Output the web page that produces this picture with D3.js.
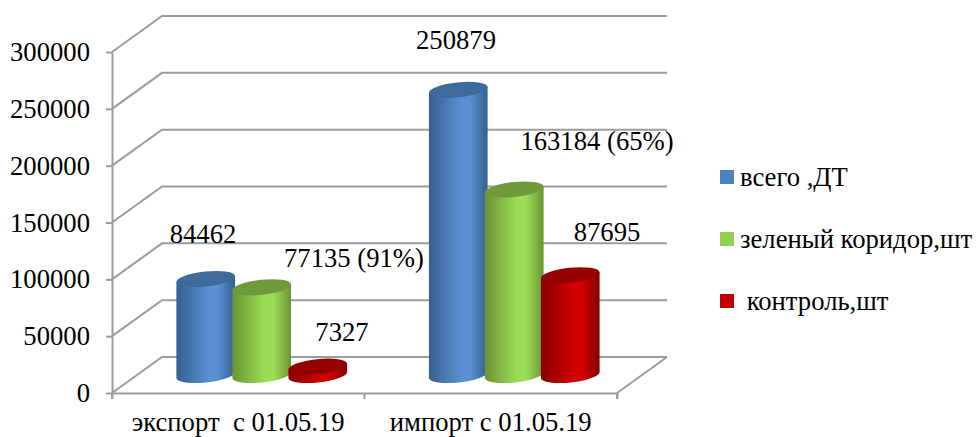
<!DOCTYPE html>
<html>
<head>
<meta charset="utf-8">
<script src="https://cdn.jsdelivr.net/npm/d3@7"></script>
<style>
  body { margin: 0; background: #fff; }
  text { font-family: "Liberation Serif", serif; font-size: 26.67px; fill: #000; white-space: pre; }
</style>
</head>
<body>
<script>
const categories = ["экспорт  с 01.05.19", "импорт с 01.05.19"];
const seriesNames = ["всего ,ДТ", "зеленый коридор,шт", " контроль,шт"];
const total = [84462, 250879];
const green = [77135, 163184];
const control = [7327, 87695];
const yTicks = [0, 50000, 100000, 150000, 200000, 250000, 300000];
const valueLabels = [
  ["84462", "250879"],
  ["77135 (91%)", "163184 (65%)"],
  ["7327", "87695"]
];

// hand placed in the original chart, so they are not tied to the bars
const labelPos = [
  [[203, 243], [456, 49]],
  [[354, 267], [597, 150]],
  [[342, 341], [607, 241]]
];

const colors = [
  { edge: "#35608f", mid: "#5a90d2", top: "#3f6a9c", key: "#4f81bd" },
  { edge: "#6a9432", mid: "#9cdd57", top: "#6f9b3c", key: "#92d050" },
  { edge: "#860000", mid: "#d20000", top: "#940000", key: "#c00000" }
];

const width = 976, height = 437;
const depth = { x: 50, y: -36 };
const plot = { left: 112, right: 617, top: 52, bottom: 393 };
const cyl = { rx: 29.5, ry: 7.5, tilt: 6 };
const seriesStep = 56;

const svg = d3.select("body").append("svg")
    .attr("width", width)
    .attr("height", height)
    .style("display", "block");

const x = d3.scaleBand().domain(categories).range([plot.left, plot.right]);
const y = d3.scaleLinear().domain([0, 300000]).range([plot.bottom, plot.top]);

// Gradients for the cylinder sides
const defs = svg.append("defs");
colors.forEach((c, i) => {
  const g = defs.append("linearGradient").attr("id", "side" + i);
  g.append("stop").attr("offset", "0%").attr("stop-color", c.edge);
  g.append("stop").attr("offset", "55%").attr("stop-color", c.mid);
  g.append("stop").attr("offset", "70%").attr("stop-color", c.mid);
  g.append("stop").attr("offset", "100%").attr("stop-color", c.edge);
});

// Walls and floor
const gridColor = "#9c9c9c";
const walls = svg.append("g")
    .attr("fill", "none")
    .attr("stroke", gridColor)
    .attr("stroke-width", 2);

walls.selectAll(".grid")
  .data(yTicks)
  .join("path")
    .attr("class", "grid")
    .attr("d", d => `M${plot.left},${y(d)}L${plot.left + depth.x},${y(d) + depth.y}H${plot.right + depth.x}`);

walls.append("path")
    .attr("d", `M${plot.right},${plot.bottom}L${plot.right + depth.x},${plot.bottom + depth.y}`);

// Axes
const yAxis = svg.append("g")
    .attr("transform", `translate(${plot.left},0)`)
    .call(d3.axisLeft(y).tickValues(yTicks).tickFormat(d3.format("d")).tickSize(6).tickPadding(16).tickSizeOuter(0));

const xAxis = svg.append("g")
    .attr("transform", `translate(0,${plot.bottom})`)
    .call(d3.axisBottom(x).tickSize(0).tickPadding(19).tickSizeOuter(6));

xAxis.selectAll(".edge")
  .data([plot.left, x(categories[1]), plot.right])
  .join("line")
    .attr("class", "edge")
    .attr("x1", d => d).attr("x2", d => d)
    .attr("y1", 0).attr("y2", 6);

[yAxis, xAxis].forEach(a => {
  a.selectAll(".domain, line").attr("stroke", gridColor).attr("stroke-width", 2);
  a.selectAll("text").style("font-size", "26.67px").attr("fill", "#000");
  a.attr("font-family", null).attr("font-size", null);
});

// Cylinders
const rad = cyl.tilt * Math.PI / 180;
const ex = cyl.rx * Math.cos(rad), ey = cyl.rx * Math.sin(rad);
const baseY = plot.bottom + depth.y / 2;
const groupShift = 23.5;

function cylinderSide(cx, top) {
  return `M${cx - ex},${top + ey}` +
    `L${cx - ex},${baseY + ey}` +
    `A${cyl.rx},${cyl.ry} ${-cyl.tilt} 0 0 ${cx + ex},${baseY - ey}` +
    `L${cx + ex},${top - ey}Z`;
}

[total, green, control].forEach((values, s) => {
  const rows = values.map((v, i) => ({
    cx: x(categories[i]) + x.bandwidth() / 2 + groupShift + (s - 1) * seriesStep,
    top: baseY - (y(0) - y(v))
  }));
  const g = svg.append("g").attr("class", "series");
  g.selectAll(".side")
    .data(rows)
    .join("path")
      .attr("class", "side")
      .attr("fill", `url(#side${s})`)
      .attr("d", d => cylinderSide(d.cx, d.top));
  g.selectAll(".top")
    .data(rows)
    .join("ellipse")
      .attr("class", "top")
      .attr("rx", cyl.rx)
      .attr("ry", cyl.ry)
      .attr("fill", colors[s].top)
      .attr("transform", d => `translate(${d.cx},${d.top}) rotate(${-cyl.tilt})`);
});

// Value labels
valueLabels.forEach((labels, s) => {
  labels.forEach((t, i) => {
    svg.append("text")
        .attr("x", labelPos[s][i][0])
        .attr("y", labelPos[s][i][1])
        .attr("text-anchor", "middle")
        .text(t);
  });
});

// Legend
const legendY = d3.scalePoint().domain(seriesNames).range([177, 301]);
const legend = svg.append("g").selectAll("g")
  .data(seriesNames)
  .join("g")
    .attr("transform", d => `translate(720,${legendY(d)})`);

legend.append("rect")
    .attr("y", -7)
    .attr("width", 14)
    .attr("height", 14)
    .attr("fill", (d, i) => colors[i].key);

legend.append("text")
    .attr("x", 20)
    .attr("y", 9)
    .text(d => d);
</script>
</body>
</html>
